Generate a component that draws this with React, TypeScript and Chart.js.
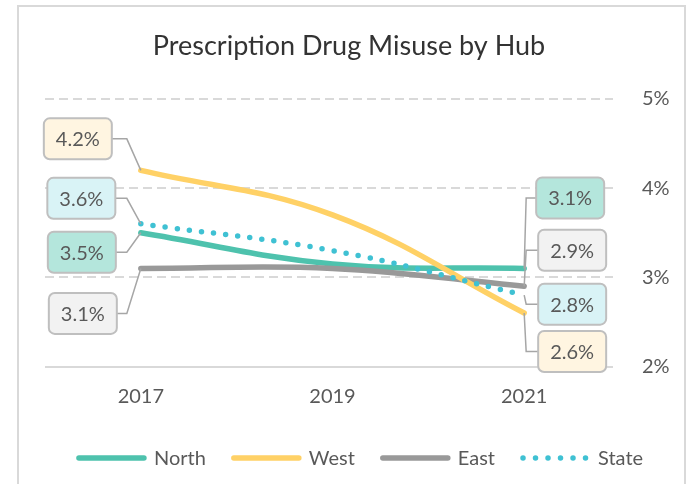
import React, { useEffect, useRef } from "react";
import { Chart, registerables } from "chart.js";

Chart.register(...registerables);

// ---------- data ----------
const TITLE = "Prescription Drug Misuse by Hub";
const CATEGORIES = ["2017", "2019", "2021"];
const SERIES_NAMES = ["North", "West", "East", "State"];
const NORTH = [3.5, 3.15, 3.1];
const WEST = [4.2, 3.7, 2.6];
const EAST = [3.1, 3.1, 2.9];
const STATE = [3.6, 3.3, 2.8];
const Y_TICKS = [2, 3, 4, 5];

// ---------- style ----------
const FONT = "Lato, 'Open Sans', sans-serif";
const TEXT = "#595959";
const LINE_COLORS = ["#4ec2ad", "#ffd166", "#999999", "#3fc1d3"];
const BOX_FILLS = ["#b4e6dc", "#fff5e1", "#f2f2f2", "#d9f3f6"];
const GRID = "#d9d9d9";
const LEADER = "#a6a6a6";

// label placements: dataset index, point index, box-center offset from point
const LABELS = [
  { ds: 1, i: 0, dx: -63, dy: -31.5, side: "left" },
  { ds: 3, i: 0, dx: -59.5, dy: -25.5, side: "left" },
  { ds: 0, i: 0, dx: -59, dy: 19.5, side: "left" },
  { ds: 2, i: 0, dx: -58, dy: 45, side: "left" },
  { ds: 0, i: 2, dx: 46, dy: -70.5, side: "right" },
  { ds: 2, i: 2, dx: 48, dy: -36, side: "right" },
  { ds: 3, i: 2, dx: 48, dy: 9, side: "right" },
  { ds: 1, i: 2, dx: 48, dy: 38.5, side: "right" },
];

const overlayPlugin = {
  id: "overlay",
  beforeDatasetsDraw(chart: any) {
    const ctx = chart.ctx;
    const y = chart.scales.y;
    const area = chart.chartArea;
    ctx.save();
    ctx.strokeStyle = GRID;
    ctx.lineWidth = 2;
    Y_TICKS.forEach((t) => {
      const py = Math.round(y.getPixelForValue(t));
      ctx.beginPath();
      ctx.setLineDash(t === Y_TICKS[0] ? [] : [9, 5]);
      ctx.moveTo(area.left, py);
      ctx.lineTo(area.right - 7, py);
      ctx.stroke();
    });
    ctx.restore();
  },
  afterDatasetsDraw(chart: any) {
    const ctx = chart.ctx;
    const W = 68;
    const H = 41;
    ctx.save();
    LABELS.forEach((l) => {
      const pt = chart.getDatasetMeta(l.ds).data[l.i];
      const px = pt.x;
      const py = pt.y;
      const cx = px + l.dx;
      const cy = py + l.dy;
      // leader
      ctx.beginPath();
      ctx.setLineDash([]);
      ctx.strokeStyle = LEADER;
      ctx.lineWidth = 1.5;
      if (l.side === "left") {
        ctx.moveTo(cx + W / 2, cy);
        ctx.lineTo(px - 14, cy);
      } else {
        ctx.moveTo(cx - W / 2, cy);
        ctx.lineTo(px + 2, cy);
      }
      ctx.lineTo(px, py);
      ctx.stroke();
      // box
      ctx.beginPath();
      if (ctx.roundRect) ctx.roundRect(cx - W / 2, cy - H / 2, W, H, 6);
      else ctx.rect(cx - W / 2, cy - H / 2, W, H);
      ctx.fillStyle = BOX_FILLS[l.ds];
      ctx.fill();
      ctx.strokeStyle = "#bfbfbf";
      ctx.lineWidth = 2;
      ctx.stroke();
      // text
      const v = chart.data.datasets[l.ds].data[l.i];
      ctx.fillStyle = TEXT;
      ctx.font = `20px ${FONT}`;
      ctx.textAlign = "center";
      ctx.textBaseline = "middle";
      ctx.fillText(Number(v).toFixed(1) + "%", cx, cy + 1);
    });
    ctx.restore();
  },
  afterDraw(chart: any) {
    const ctx = chart.ctx;
    ctx.save();
    // title
    ctx.fillStyle = "#333333";
    ctx.font = `27px ${FONT}`;
    ctx.textAlign = "center";
    ctx.textBaseline = "alphabetic";
    ctx.fillText(TITLE, 349, 55);
    // legend
    ctx.font = `20px ${FONT}`;
    const lineLen = 71;
    const gapText = 7;
    const gapItem = 25;
    const widths = SERIES_NAMES.map((n) => ctx.measureText(n).width);
    const total =
      widths.reduce((a, b) => a + b, 0) +
      SERIES_NAMES.length * (lineLen + gapText) +
      (SERIES_NAMES.length - 1) * gapItem;
    let x = 359.5 - total / 2;
    const ly = 458;
    SERIES_NAMES.forEach((n, k) => {
      ctx.beginPath();
      ctx.strokeStyle = LINE_COLORS[k];
      ctx.lineWidth = 5.5;
      ctx.lineCap = "round";
      if (k === 3) ctx.setLineDash([0, 12.5]);
      else ctx.setLineDash([]);
      ctx.moveTo(x + 3, ly);
      ctx.lineTo(x + lineLen - 3, ly);
      ctx.stroke();
      ctx.setLineDash([]);
      ctx.fillStyle = TEXT;
      ctx.textAlign = "left";
      ctx.textBaseline = "middle";
      ctx.fillText(n, x + lineLen + gapText, ly + 1);
      x += lineLen + gapText + widths[k] + gapItem;
    });
    ctx.restore();
  },
};

export default function App() {
  const ref = useRef<HTMLCanvasElement | null>(null);
  useEffect(() => {
    if (!ref.current) return;
    const series = [NORTH, WEST, EAST, STATE];
    const orders = [4, 2, 3, 1];
    const chart = new Chart(ref.current, {
      type: "line",
      data: {
        labels: CATEGORIES,
        datasets: series.map((d, k) => ({
          label: SERIES_NAMES[k],
          data: d,
          borderColor: LINE_COLORS[k],
          backgroundColor: LINE_COLORS[k],
          borderWidth: 5.5,
          borderDash: k === 3 ? [0, 12.2] : [],
          borderCapStyle: "round",
          pointRadius: 0,
          tension: 0.4,
          fill: false,
          order: orders[k],
        })),
      },
      options: {
        responsive: false,
        devicePixelRatio: 1,
        animation: false,
        layout: { padding: { left: 45, top: 99, right: 0, bottom: 0 } },
        plugins: {
          legend: { display: false },
          title: { display: false },
          tooltip: { enabled: false },
        },
        scales: {
          x: {
            type: "category",
            offset: true,
            grid: { display: false, drawTicks: false },
            border: { display: false },
            ticks: {
              color: TEXT,
              font: { family: FONT, size: 20 },
              padding: 18,
              maxRotation: 0,
            },
            afterFit(scale: any) {
              scale.height = 117.5;
            },
          },
          y: {
            position: "right",
            min: 2,
            max: 5,
            grid: { display: false, drawTicks: false },
            border: { display: false },
            afterBuildTicks(scale: any) {
              scale.ticks = Y_TICKS.map((v) => ({ value: v }));
            },
            ticks: {
              color: TEXT,
              font: { family: FONT, size: 20 },
              padding: 22,
              callback: (v: any) => v + "%",
            },
            afterFit(scale: any) {
              scale.width = 73;
            },
          },
        },
      },
      plugins: [overlayPlugin],
    } as any);
    return () => chart.destroy();
  }, []);

  return (
    <div style={{ position: "fixed", left: 0, top: 0, width: 693, height: 484, background: "#fff", overflow: "hidden" }}>
      <div
        style={{
          position: "absolute",
          left: 17,
          top: 5,
          width: 669,
          height: 520,
          border: "2px solid #d9d9d9",
          boxSizing: "border-box",
        }}
      />
      <canvas ref={ref} width={693} height={484} style={{ position: "absolute", left: 0, top: 0, width: 693, height: 484 }} />
    </div>
  );
}
